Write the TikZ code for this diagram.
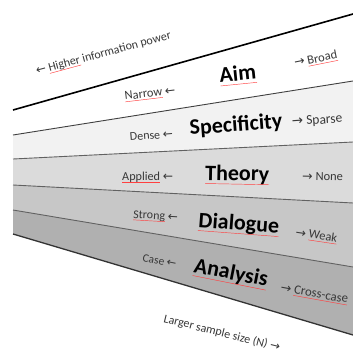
\documentclass[tikz,border=0pt]{standalone}
\usepackage{fontspec}
\setmainfont{Carlito}
\newfontfamily\arrfont{DejaVu Sans}
\newsavebox\splbox
\newcommand\spl[1]{\sbox\splbox{#1}\leavevmode\rlap{\usebox\splbox}{\color{red!75}\rule[-0.17em]{\wd\splbox}{0.45pt}}}
\newcommand\la{{\arrfont ←}}
\newcommand\ra{{\arrfont →}}
\newcommand\fz[1]{\fontsize{#1}{#1}\selectfont}
\tikzset{
  lbl/.style={anchor=base west, inner sep=0pt, text=black!78},
  big/.style={anchor=base west, inner sep=0pt, text=black, font=\bfseries\fz{22}},
  sepline/.style={draw=black!62, line width=0.9pt},
}
\begin{document}
\begin{tikzpicture}[x=1pt,y=-1pt]
\fill[white] (0,0) rectangle (353,356);
\useasboundingbox (0,0) rectangle (353,356);
% left and right ends of the separating lines
\coordinate (L1) at (13,110); \coordinate (R1) at (353,14);
\coordinate (L2) at (13,135); \coordinate (R2) at (353,81);
\coordinate (L3) at (13,159); \coordinate (R3) at (353,142);
\coordinate (L4) at (13,185); \coordinate (R4) at (353,203);
\coordinate (L5) at (13,210); \coordinate (R5) at (353,267);
\coordinate (L6) at (13,234); \coordinate (R6) at (353,335);
% bands
\fill[white!95!black] (L2) -- (R2) -- (R3) -- (L3) -- cycle;
\fill[white!86!black] (L3) -- (R3) -- (R4) -- (L4) -- cycle;
\fill[white!78!black] (L4) -- (R4) -- (R5) -- (L5) -- cycle;
\fill[white!69!black] (L5) -- (R5) -- (R6) -- (L6) -- cycle;
% lines
\draw[black, line width=1.6pt] (L1) -- (R1);
\draw[sepline, draw=black!75] (L2) -- (R2);
\draw[sepline] (L3) -- (R3);
\draw[sepline] (L4) -- (R4);
\draw[sepline] (L5) -- (R5);
\draw[black!80, line width=1.3pt] (L6) -- (R6);
% top text
\node[lbl, rotate=15.1, font=\fz{12}] (hip) at (37,75) {\la\ \spl{Higher} information power};
% Aim row
\node[lbl, rotate=6.8, font=\fz{12.4}] (narrow) at (125,100) {\spl{Narrow} \la};
\node[big, rotate=5.7] (aim) at (220,82.5) {\spl{Aim}};
\node[lbl, rotate=11.3, font=\fz{12.5}] (broad) at (295,67) {\ra\ \spl{Broad}};
% Specificity row
\node[lbl, rotate=4.6, font=\fz{12}] (dense) at (130,141) {Dense \la};
\node[big, rotate=4.3] (spec) at (190,135) {Specificity};
\node[lbl, rotate=4, font=\fz{13.5}] (sparse) at (292,126) {\ra\ Sparse};
% Theory row
\node[lbl, font=\fz{12.2}] (applied) at (122,180) {\spl{Applied} \la};
\node[big, rotate=-1.1] (theory) at (205,180) {\spl{Theory}};
\node[lbl, rotate=-1.1, font=\fz{12.5}] (none) at (302,180) {\ra\ None};
% Dialogue row
\node[lbl, rotate=-3.4, font=\fz{12}] (strong) at (133,218) {\spl{Strong} \la};
\node[big, rotate=-4.3] (dial) at (198,227) {\spl{Dialogue}};
\node[lbl, rotate=-8.5, font=\fz{12.5}] (weak) at (295,236) {\ra\ \spl{Weak}};
% Analysis row
\node[lbl, rotate=-11.3, font=\fz{11.5}] (case) at (142,261) {Case \la};
\node[big, rotate=-11.3] (anal) at (193,272) {\spl{Analysis}};
\node[lbl, rotate=-10.2, font=\fz{12.8}] (cross) at (280,291) {\ra\ \spl{Cross-case}};
% bottom text
\node[lbl, rotate=-14, font=\fz{12}] (lss) at (163,322) {Larger sample size (N) \ra};
\end{tikzpicture}
\end{document}
